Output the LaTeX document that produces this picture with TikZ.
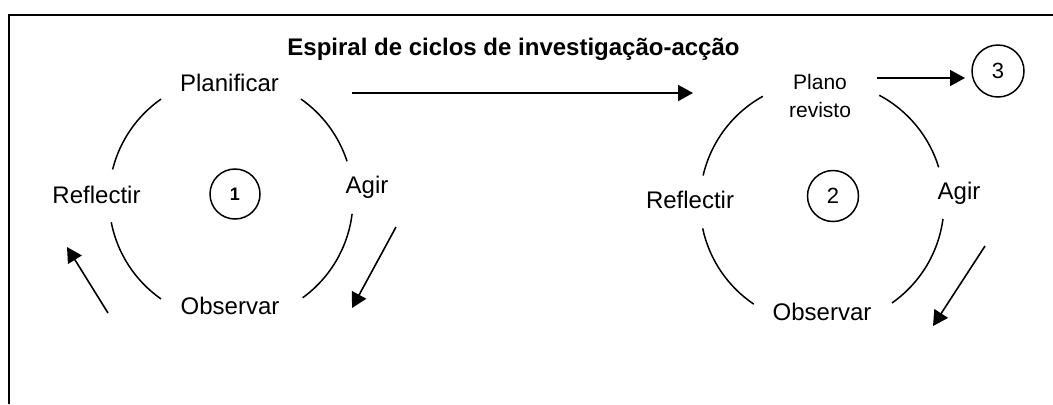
\documentclass[tikz,border=0pt]{standalone}
\usepackage{fontspec}
\setmainfont{Liberation Sans}
\usetikzlibrary{arrows.meta,positioning}

\begin{document}
\begin{tikzpicture}[
    x=0.5pt, y=-0.5pt,
    font=\fontsize{12}{14}\selectfont,
    stage/.style={anchor=base, inner sep=0pt},
    cyclenum/.style={circle, draw, line width=0.75pt, inner sep=0pt},
    turn/.style={line width=0.75pt},
    flow/.style={-{Triangle[length=7.5pt,width=8pt]}, line width=0.8pt}
]
    \useasboundingbox (0,0) rectangle (1053,404);

    % Frame
    \draw[line width=1pt] (9,404) -- (9,15) -- (1053,15);

    % Title
    \node[anchor=base west, inner sep=0pt, font=\bfseries\fontsize{12}{14}\selectfont] (title) at (287,55) {Espiral de ciclos de investigação-acção};

    % Cycle 1 (left)
    \coordinate (cyc1) at (231,199);
    \node[stage] (plan1) at (229.5,91) {Planificar};
    \node[stage] (act1) at (367,193) {Agir};
    \node[stage] (obs1) at (230,314) {Observar};
    \node[stage] (refl1) at (96.5,203) {Reflectir};
    \node[cyclenum, minimum size=25pt, font=\bfseries\fontsize{9}{11}\selectfont] (n1) at (235,194) {1};
    \foreach \a/\b in {55/18, 125/166, 191/235, 306/353}
        \draw[turn] (cyc1) ++(\a:61pt) arc[start angle=\a, end angle=\b, radius=61pt];
    \coordinate (back1s) at (108,313);
    \coordinate (back1e) at (67,247);
    \coordinate (down1s) at (396,227);
    \coordinate (down1e) at (352,308);
    \draw[flow] (back1s) -- (back1e);
    \draw[flow] (down1s) -- (down1e);

    % Link to cycle 2
    \coordinate (links) at (352,93);
    \coordinate (linke) at (693,93);
    \draw[flow, line width=1pt] (links) -- (linke);

    % Cycle 2 (right)
    \coordinate (cyc2) at (822,203);
    \node[align=center, inner sep=0pt, font=\fontsize{10.5}{14}\selectfont] (plan2) at (820,96) {Plano\\revisto};
    \node[stage] (act2) at (959,199) {Agir};
    \node[stage] (obs2) at (822,320) {Observar};
    \node[stage] (refl2) at (690,208) {Reflectir};
    \node[cyclenum, minimum size=25.5pt, font=\fontsize{11}{13}\selectfont] (n2) at (833,196) {2};
    \foreach \a/\b in {62/17, 119/167, 192/236, 305/352.5}
        \draw[turn] (cyc2) ++(\a:61pt) arc[start angle=\a, end angle=\b, radius=61pt];
    \coordinate (down2s) at (985,246);
    \coordinate (down2e) at (933,326);
    \draw[flow] (down2s) -- (down2e);

    % On to cycle 3
    \node[cyclenum, minimum size=26pt, font=\fontsize{11}{13}\selectfont] (n3) at (998,71) {3};
    \coordinate (nexts) at (877,78);
    \coordinate (nexte) at (965,78);
    \draw[flow] (nexts) -- (nexte);

\end{tikzpicture}
\end{document}
